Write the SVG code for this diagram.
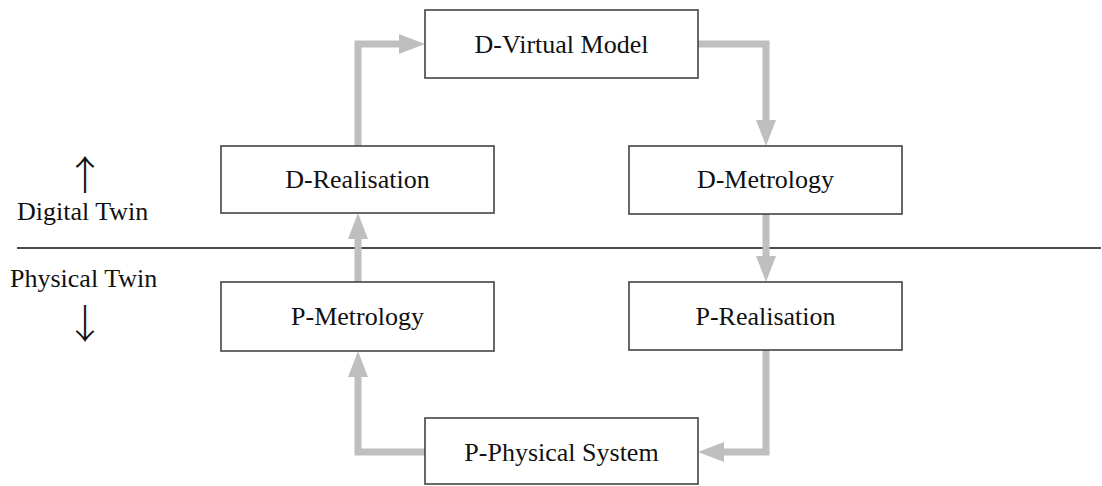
<svg xmlns="http://www.w3.org/2000/svg" width="1102" height="486" viewBox="0 0 1102 486">
<defs>
<style>
.box{fill:#fff;stroke:#444;stroke-width:1.6}
.lbl{font-family:"Liberation Serif","Times New Roman",serif;font-size:26px;fill:#111;text-anchor:middle}
.side{font-family:"Liberation Serif","Times New Roman",serif;font-size:26px;fill:#111}
.arr{font-family:"Noto Sans CJK JP",sans-serif;font-size:40px;font-weight:300;fill:#111;text-anchor:middle}
.conn{fill:none;stroke:#bfbfbf;stroke-width:7;stroke-linejoin:miter}
</style>
<marker id="ah" markerUnits="userSpaceOnUse" markerWidth="26" markerHeight="20" refX="0" refY="10" orient="auto">
<path d="M0,0 L26,10 L0,20 z" fill="#bfbfbf"/>
</marker>
</defs>
<rect width="1102" height="486" fill="#fff"/>
<g id="divider">
<line x1="17" y1="248" x2="1101" y2="248" stroke="#111" stroke-width="1.6"/>
<text class="arr" x="85" y="190">↑</text>
<text class="side" x="17" y="220">Digital Twin</text>
<text class="side" x="10" y="287">Physical Twin</text>
<text class="arr" x="85" y="338">↓</text>
</g>
<g id="connectors">
<path class="conn" d="M358,146 V44 H399" marker-end="url(#ah)"/>
<path class="conn" d="M698,44 H766 V120" marker-end="url(#ah)"/>
<path class="conn" d="M766,214 V256" marker-end="url(#ah)"/>
<path class="conn" d="M766,350 V452 H724" marker-end="url(#ah)"/>
<path class="conn" d="M425,452 H358 V377" marker-end="url(#ah)"/>
<path class="conn" d="M358,282 V239" marker-end="url(#ah)"/>
</g>
<g id="d-virtual-model"><rect class="box" x="425" y="10" width="273" height="68"/><text class="lbl" x="561.5" y="53">D-Virtual Model</text></g>
<g id="d-realisation"><rect class="box" x="221" y="146" width="273" height="67"/><text class="lbl" x="357.5" y="188">D-Realisation</text></g>
<g id="d-metrology"><rect class="box" x="629" y="146" width="273" height="68"/><text class="lbl" x="765.5" y="188">D-Metrology</text></g>
<g id="p-metrology"><rect class="box" x="221" y="282" width="273" height="69"/><text class="lbl" x="357.5" y="325">P-Metrology</text></g>
<g id="p-realisation"><rect class="box" x="629" y="282" width="273" height="68"/><text class="lbl" x="765.5" y="325">P-Realisation</text></g>
<g id="p-physical-system"><rect class="box" x="425" y="418" width="273" height="66"/><text class="lbl" x="561.5" y="461">P-Physical System</text></g>
</svg>
